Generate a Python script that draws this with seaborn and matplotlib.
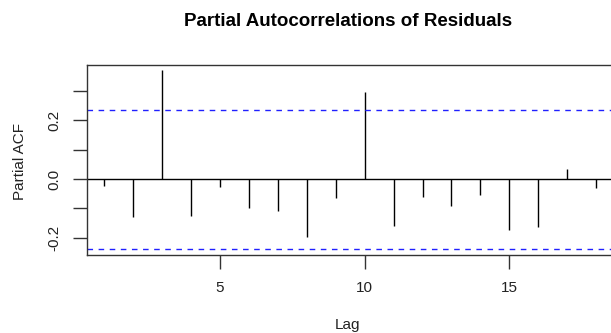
import numpy as np
import pandas as pd
import matplotlib
matplotlib.use("Agg")
import matplotlib.pyplot as plt
import seaborn as sns

lags = list(range(1, 19))
pacf_values = [-0.023, -0.130, 0.371, -0.127, -0.028, -0.098, -0.110, -0.197, -0.064,
               0.298, -0.161, -0.061, -0.091, -0.054, -0.174, -0.164, 0.034, -0.032]
conf_limit = 0.237
x_ticks = [5, 10, 15]
y_ticks = [-0.2, -0.1, 0.0, 0.1, 0.2, 0.3]
y_tick_labels = ["-0.2", "", "0.0", "", "0.2", ""]

title = "Partial Autocorrelations of Residuals"
xlabel = "Lag"
ylabel = "Partial ACF"

sns.set_style("ticks")
plt.rcParams["font.family"] = ["Liberation Sans", "DejaVu Sans"]

df = pd.DataFrame({"lag": lags, "pacf": pacf_values})

W, H = 611, 333
fig = plt.figure(figsize=(W / 100, H / 100), dpi=100)
ax = fig.add_axes([86.7 / W, 1 - 254.7 / H, (625 - 86.7) / W, (254.7 - 65) / H])

ax.vlines(df["lag"], 0, df["pacf"], color="black", linewidth=1.0)
sns.lineplot(x=[0.39, 19], y=[0, 0], ax=ax, color="black", linewidth=1.0)
for c in (conf_limit, -conf_limit):
    ax.axhline(c, color="#2020ff", linewidth=1.0, linestyle=(0, (4, 4)))

ax.set_xlim(0.39, 19)
ax.set_ylim(-0.258, 0.389)
ax.set_xticks(x_ticks)
ax.set_xticklabels([str(t) for t in x_ticks])
ax.set_yticks(y_ticks)
ax.set_yticklabels(y_tick_labels, rotation=90, va="center")
ax.tick_params(axis="both", length=10, width=1, color="#333333", labelsize=11,
               labelcolor="#222222")
ax.tick_params(axis="x", pad=9)
ax.tick_params(axis="y", pad=8)
for s in ("left", "top", "bottom"):
    ax.spines[s].set_color("#333333")
    ax.spines[s].set_linewidth(1.0)
ax.spines["right"].set_visible(False)
ax.set_xlabel("")
ax.set_ylabel("")

fig.text(348 / W, 1 - 21 / H, title, ha="center", va="center", fontsize=13.5,
         fontweight="bold", color="black")
fig.text(348 / W, 1 - 325 / H, xlabel, ha="center", va="center", fontsize=11,
         color="#222222")
fig.text(20 / W, 1 - 161 / H, ylabel, ha="center", va="center", fontsize=11,
         rotation=90, color="#222222")

fig.savefig("out.png", dpi=100)
